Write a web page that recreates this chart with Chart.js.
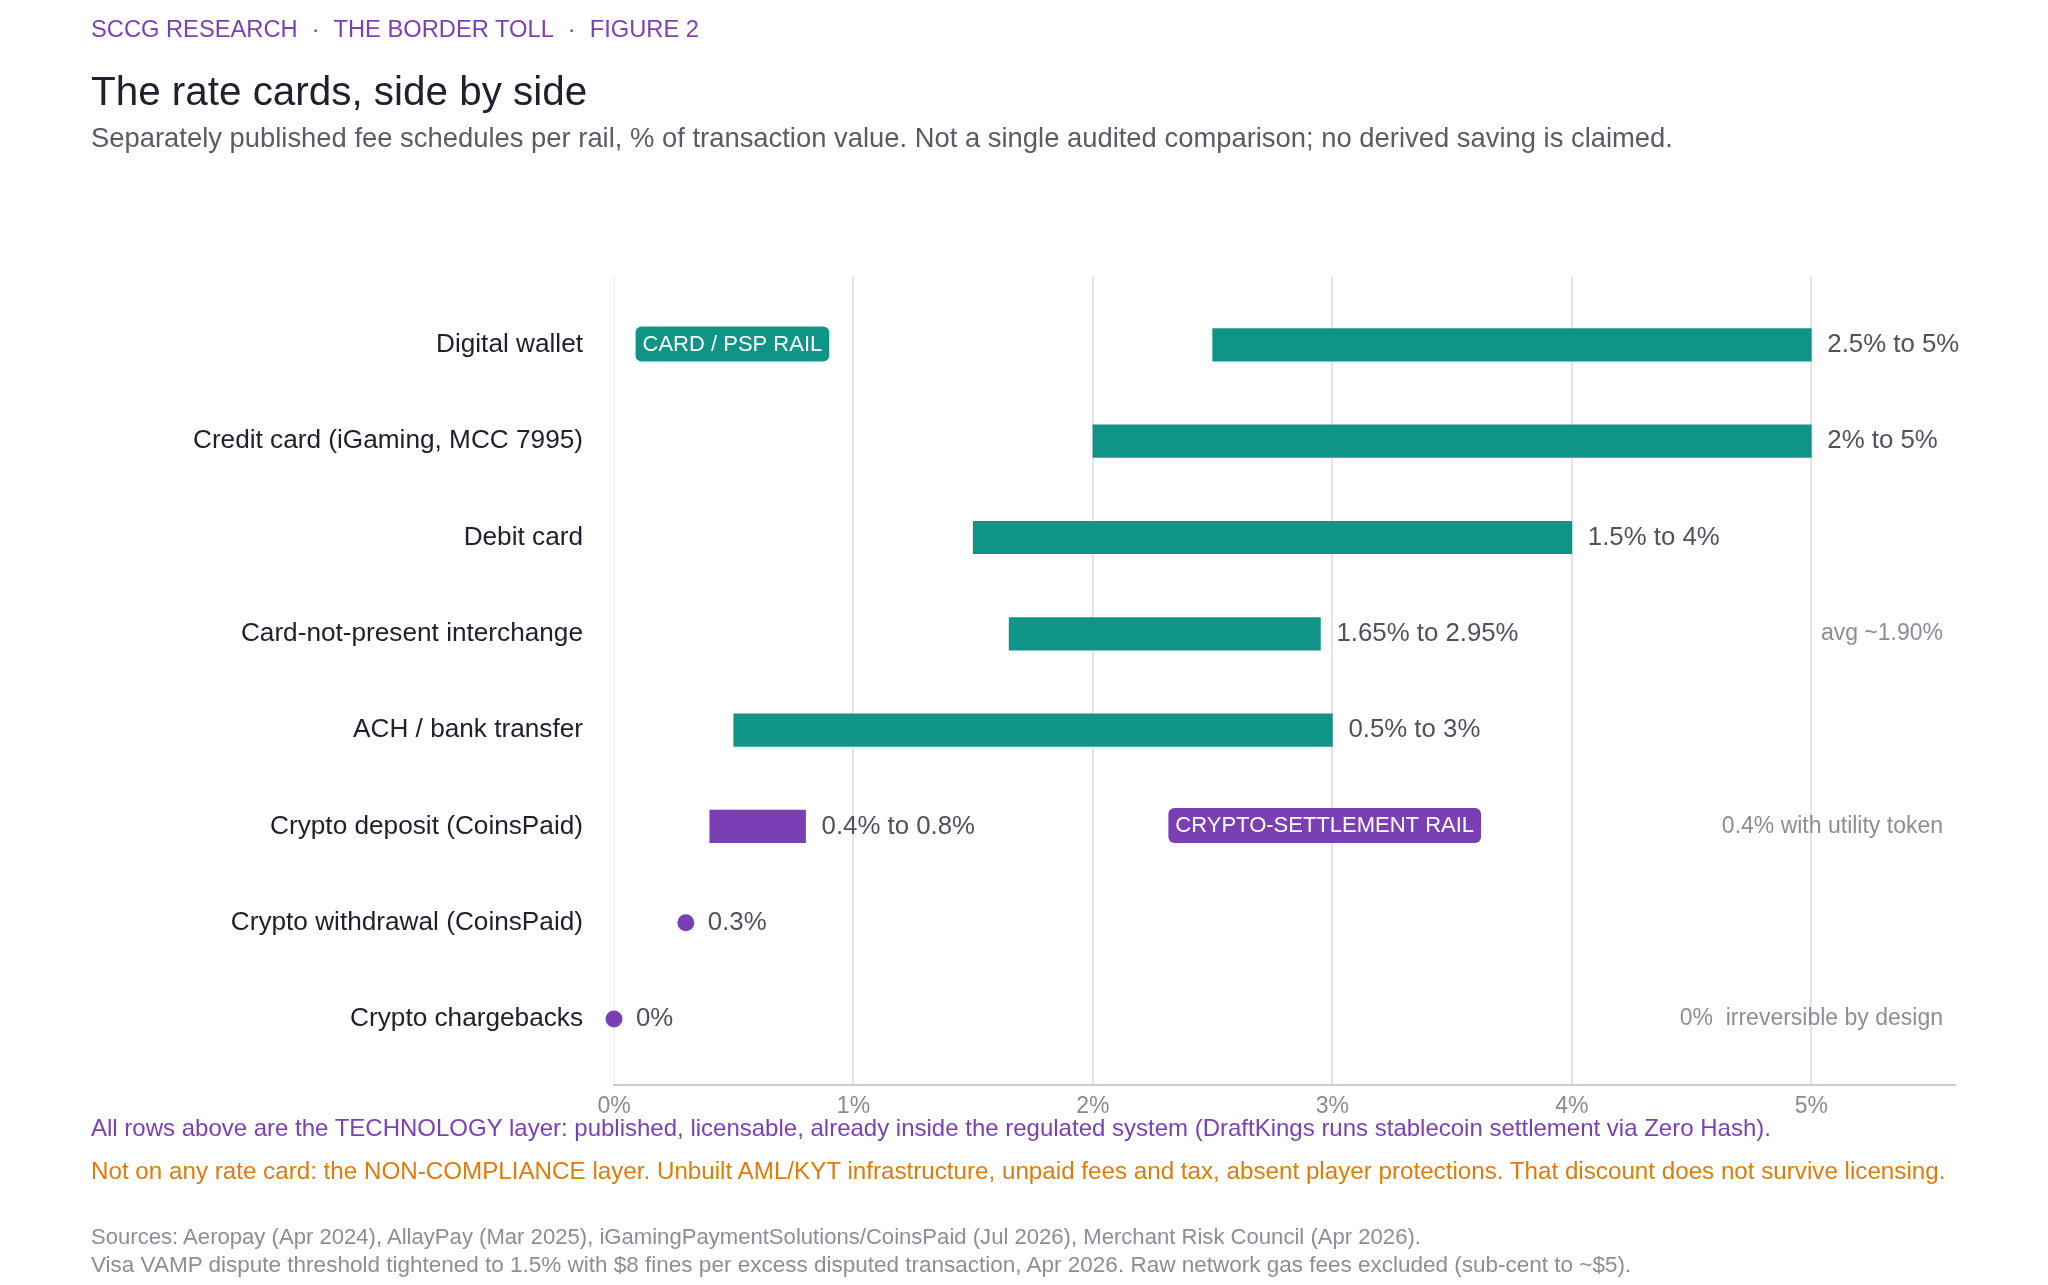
<!DOCTYPE html>
<html>
<head>
<meta charset="utf-8">
<title>The rate cards, side by side</title>
<script src="https://cdn.jsdelivr.net/npm/chart.js@4.4.1/dist/chart.umd.min.js"></script>
<style>
    body { margin: 0; background: #fff; font-family: "Liberation Sans", Arial, sans-serif; }
    .page { position: relative; width: 2048px; height: 1285px; overflow: hidden; }
    .chart-wrap { position: absolute; left: 0; top: 0; width: 2048px; height: 1285px; }
    .txt { position: absolute; left: 91px; white-space: nowrap; }
    .eyebrow { top: 15px; font-size: 23.7px; line-height: 28px; color: #7b3fb6; }
    .eyebrow .sep { margin: 0 14px; }
    .title { top: 67px; font-size: 40.4px; line-height: 48px; color: #22202e; }
    .subtitle { top: 122px; font-size: 27.4px; line-height: 32px; color: #5c5a68; }
    .note-tech { top: 1113px; font-size: 24px; line-height: 30px; color: #7b3fb6; }
    .note-comp { top: 1156px; font-size: 24.2px; line-height: 30px; color: #e07b0a; }
    .src { line-height: 28px; color: #8e8c99; }
</style>
</head>
<body>
<div class="page">
    <div class="chart-wrap"><canvas id="rateChart"></canvas></div>
    <div class="txt eyebrow">SCCG RESEARCH<span class="sep">·</span>THE BORDER TOLL<span class="sep">·</span>FIGURE 2</div>
    <div class="txt title">The rate cards, side by side</div>
    <div class="txt subtitle">Separately published fee schedules per rail, % of transaction value. Not a single audited comparison; no derived saving is claimed.</div>
    <div class="txt note-tech">All rows above are the TECHNOLOGY layer: published, licensable, already inside the regulated system (DraftKings runs stablecoin settlement via Zero Hash).</div>
    <div class="txt note-comp">Not on any rate card: the NON-COMPLIANCE layer. Unbuilt AML/KYT infrastructure, unpaid fees and tax, absent player protections. That discount does not survive licensing.</div>
    <div class="txt src" style="top:1223px; font-size:22.1px">Sources: Aeropay (Apr 2024), AllayPay (Mar 2025), iGamingPaymentSolutions/CoinsPaid (Jul 2026), Merchant Risk Council (Apr 2026).</div>
    <div class="txt src" style="top:1251px; font-size:22.5px">Visa VAMP dispute threshold tightened to 1.5% with $8 fines per excess disputed transaction, Apr 2026. Raw network gas fees excluded (sub-cent to ~$5).</div>
</div>

<script>
// ---- data ----
const categories = [
    'Digital wallet',
    'Credit card (iGaming, MCC 7995)',
    'Debit card',
    'Card-not-present interchange',
    'ACH / bank transfer',
    'Crypto deposit (CoinsPaid)',
    'Crypto withdrawal (CoinsPaid)',
    'Crypto chargebacks'
];
const lowValues  = [2.5, 2, 1.5, 1.65, 0.5, 0.4, 0.3, 0];
const highValues = [5,   5, 4,   2.95, 3,   0.8, 0.3, 0];
const rails = ['card', 'card', 'card', 'card', 'card', 'crypto', 'crypto', 'crypto'];
const sideNotes = ['', '', '', 'avg ~1.90%', '', '0.4% with utility token', '', '0%  irreversible by design'];
const xTicks = [0, 1, 2, 3, 4, 5];

const FONT = '"Liberation Sans", Arial, sans-serif';
const TEAL = '#0f9486';
const PURPLE = '#7b3fb5';
const railColor = r => r === 'crypto' ? PURPLE : TEAL;

// rail tags, placed in data units
const railTags = [
    { text: 'CARD / PSP RAIL', x: 0.09, row: 0, color: TEAL },
    { text: 'CRYPTO-SETTLEMENT RAIL', x: 2.315, row: 5, color: PURPLE }
];

const barData = [];
const dotData = [];
categories.forEach((c, i) => {
    if (lowValues[i] === highValues[i]) {
        dotData.push({ x: lowValues[i], y: i });
    } else {
        barData.push({ x: [lowValues[i], highValues[i]], y: i });
    }
});

const rateLabels = {
    id: 'rateLabels',
    afterDatasetsDraw(chart) {
        const { ctx, scales: { x, y } } = chart;
        ctx.save();
        ctx.textBaseline = 'middle';

        // range labels at the end of each mark
        ctx.font = '25.8px ' + FONT;
        ctx.fillStyle = '#52505e';
        ctx.textAlign = 'left';
        categories.forEach((c, i) => {
            const lo = lowValues[i], hi = highValues[i];
            const single = lo === hi;
            const txt = single ? lo + '%' : lo + '% to ' + hi + '%';
            ctx.fillText(txt, x.getPixelForValue(hi) + (single ? 22 : 16), y.getPixelForValue(i));
        });

        // side notes, right aligned
        ctx.font = '23px ' + FONT;
        ctx.fillStyle = '#8e8c99';
        ctx.textAlign = 'right';
        sideNotes.forEach((n, i) => {
            if (n) ctx.fillText(n, chart.chartArea.right - 12, y.getPixelForValue(i));
        });

        // rail tags
        ctx.font = '22px ' + FONT;
        ctx.textAlign = 'left';
        railTags.forEach(t => {
            const w = ctx.measureText(t.text).width + 14;
            const h = 35;
            const left = x.getPixelForValue(t.x);
            const top = y.getPixelForValue(t.row) - h / 2 - 1;
            ctx.fillStyle = t.color;
            ctx.beginPath();
            ctx.roundRect(left, top, w, h, 6);
            ctx.fill();
            ctx.fillStyle = '#ffffff';
            ctx.fillText(t.text, left + 7, top + h / 2 + 1);
        });
        ctx.restore();
    }
};

new Chart(document.getElementById('rateChart'), {
    type: 'bar',
    data: {
        datasets: [{
            type: 'bar',
            indexAxis: 'y',
            data: barData,
            backgroundColor: barData.map(d => railColor(rails[d.y])),
            barThickness: 32.5,
            borderSkipped: false
        }, {
            type: 'scatter',
            data: dotData,
            clip: false,
            backgroundColor: dotData.map(d => railColor(rails[d.y])),
            borderWidth: 0,
            pointRadius: 8.5,
            pointHoverRadius: 8.5
        }]
    },
    options: {
        responsive: true,
        maintainAspectRatio: false,
        animation: false,
        layout: { padding: { left: 0, right: 93, top: 277, bottom: 0 } },
        plugins: {
            legend: { display: false },
            tooltip: { enabled: false }
        },
        scales: {
            x: {
                type: 'linear',
                offset: false,
                min: 0,
                max: 5.6,
                afterBuildTicks: scale => { scale.ticks = xTicks.map(v => ({ value: v })); },
                afterFit: scale => { scale.height = 200; },
                grid: {
                    offset: false,
                    color: c => c.tick && c.tick.value === 0 ? '#ececf1' : '#e3e3e9',
                    lineWidth: c => c.tick && c.tick.value === 0 ? 1 : 2,
                    drawTicks: false
                },
                border: { display: true, color: '#cdcdd5', width: 2 },
                ticks: {
                    autoSkip: false,
                    maxRotation: 0,
                    padding: 8,
                    color: '#8b8996',
                    font: { family: FONT, size: 23 },
                    callback: v => v + '%'
                }
            },
            y: {
                type: 'linear',
                offset: false,
                reverse: true,
                min: -0.705,
                max: 7.685,
                afterBuildTicks: scale => { scale.ticks = categories.map((c, i) => ({ value: i })); },
                afterFit: scale => { scale.width = 614; },
                grid: { display: false, drawTicks: false, offset: false },
                border: { display: false },
                ticks: {
                    autoSkip: false,
                    padding: 31,
                    color: '#22202e',
                    font: { family: FONT, size: 26.2 },
                    callback: v => categories[v]
                }
            }
        }
    },
    plugins: [rateLabels]
});
</script>
</body>
</html>
